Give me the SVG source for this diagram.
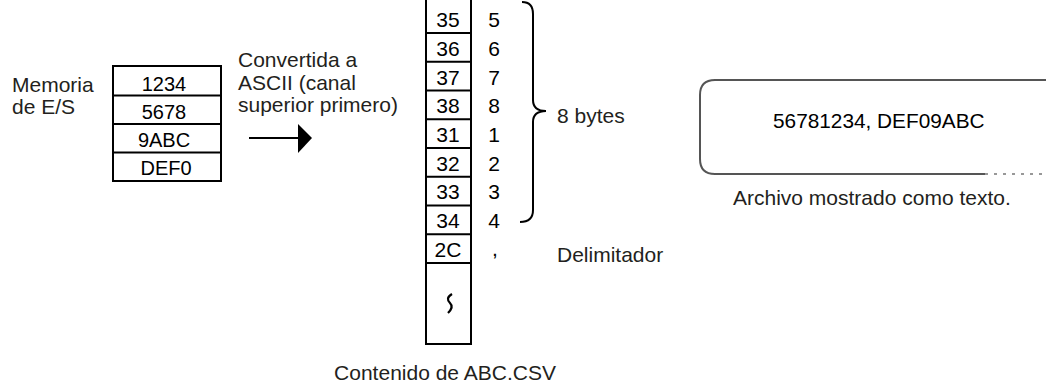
<svg xmlns="http://www.w3.org/2000/svg" width="1046" height="384" viewBox="0 0 1046 384">
<style>
.lbl{font-family:"Liberation Sans",Arial,sans-serif;font-size:21px;fill:#231f20}
.hex{font-family:"Liberation Sans",Arial,sans-serif;font-size:20px;fill:#000;text-anchor:middle}
.col{font-size:21px}
.ln{stroke:#000;stroke-width:2;fill:none}
</style>
<rect width="1046" height="384" fill="#fff"/>
<g id="io-memory">
<text class="lbl" x="12" y="92">Memoria</text>
<text class="lbl" x="12" y="114">de E/S</text>
<rect class="ln" x="113" y="66" width="108" height="115"/>
<path class="ln" d="M113,95.5H221M113,124H221M113,152.5H221"/>
<text class="hex" x="164" y="91">1234</text>
<text class="hex" x="164" y="119">5678</text>
<text class="hex" x="164" y="147">9ABC</text>
<text class="hex" x="166" y="175">DEF0</text>
</g>
<g id="conversion-label">
<text class="lbl" x="238" y="67">Convertida a</text>
<text class="lbl" x="238" y="90">ASCII (canal</text>
<text class="lbl" x="238" y="112">superior primero)</text>
</g>
<g id="connectors">
<line class="ln" x1="249" y1="138" x2="300" y2="138"/>
<polygon points="298,124 312,138 298,153" fill="#000"/>
<path class="ln" d="M522,2 Q533,2 533,14 L533,100 Q533,111 546,111 Q533,111 533,122 L533,210 Q533,222 520,222"/>
</g>
<g id="csv-column">
<path class="ln" d="M426,0V344H471V0"/>
<path class="ln" d="M426,33H471M426,61.75H471M426,90.5H471M426,119.25H471M426,148H471M426,176.75H471M426,205.5H471M426,234.25H471M426,263H471"/>
<text class="hex col" x="448" y="27">35</text><text class="hex col" x="494" y="27">5</text>
<text class="hex col" x="448" y="56">36</text><text class="hex col" x="494" y="56">6</text>
<text class="hex col" x="448" y="85">37</text><text class="hex col" x="494" y="85">7</text>
<text class="hex col" x="448" y="113">38</text><text class="hex col" x="494" y="113">8</text>
<text class="hex col" x="448" y="142">31</text><text class="hex col" x="494" y="142">1</text>
<text class="hex col" x="448" y="171">32</text><text class="hex col" x="494" y="171">2</text>
<text class="hex col" x="448" y="199">33</text><text class="hex col" x="494" y="199">3</text>
<text class="hex col" x="448" y="228">34</text><text class="hex col" x="494" y="228">4</text>
<text class="hex col" x="448" y="257">2C</text><text class="hex col" x="495" y="256">,</text>
<path d="M452,294 C447,297 447,300 450,303 C453,306 452,309 448,313" stroke="#000" stroke-width="2.2" fill="none"/>
<text class="lbl" x="445" y="380" text-anchor="middle">Contenido de ABC.CSV</text>
</g>
<g id="bytes-label">
<text class="lbl" x="557" y="123">8 bytes</text>
</g>
<g id="delimiter-label">
<text class="lbl" x="557" y="262">Delimitador</text>
</g>
<g id="text-file">
<path d="M1046,80H715Q700,80 700,95V159Q700,174 715,174H985" stroke="#555" stroke-width="2" fill="none"/>
<path d="M985,174H1046" stroke="#777" stroke-width="1.5" stroke-dasharray="3,6" fill="none"/>
<text x="773" y="128" style="font-family:'Liberation Sans',Arial,sans-serif;font-size:20.8px;fill:#000">56781234, DEF09ABC</text>
<text class="lbl" x="733" y="205">Archivo mostrado como texto.</text>
</g>
</svg>
